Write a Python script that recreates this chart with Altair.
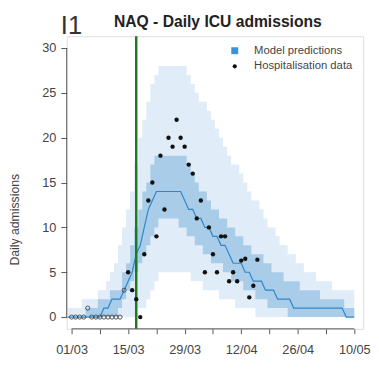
import json
import altair as alt
import pandas as pd

# ---- data (day index 0 = 01/03) ----
days = list(range(-1, 71))

outer_hi = [1, 1, 1, 1,
            2, 2, 2, 2,
            3, 3, 4, 5,
            6, 8, 10, 12, 14, 17, 20, 22, 24, 26, 27,
            28, 28, 28, 28, 28, 28, 28,
            27, 26, 25, 24, 24, 23, 22, 21, 20, 19, 18, 17,
            17, 16, 15, 14, 13, 13, 12, 11, 10, 10, 9, 8,
            8, 7, 7, 6, 6, 5, 5, 5, 4, 4, 4, 4,
            3, 3, 3, 3, 3, 3]

outer_lo = [0] * 18 + [1, 1, 2, 3, 4] + [5] * 8 + \
           [4, 4, 4, 3, 3, 3, 3, 2, 2, 2, 2, 1, 1, 1, 1, 1] + [0] * 25

inner_hi = [0, 0, 0, 0, 0,
            1, 1, 1,
            2, 2, 2,
            3, 3, 3, 5, 6, 8, 10, 12, 14, 15, 17, 18,
            18, 18, 18, 18, 18, 18, 18,
            17, 16, 15, 14, 14, 13, 12, 12, 11, 11, 10, 10,
            9, 9, 8, 8, 7, 7, 7, 6, 6, 5, 5, 5,
            4, 4, 4, 4, 3, 3, 3, 3, 3, 2, 2, 2,
            2, 2, 2, 1, 1, 1]

inner_lo = [0] * 13 + [1, 2, 3, 4, 5, 6, 7, 8, 9, 10] + [11] * 5 + \
           [10, 10, 9, 9, 8, 8, 7, 7, 6, 6, 6, 5, 5, 4] + \
           [4, 4, 3, 3, 3, 2, 2, 2, 1, 1, 1, 1, 1] + [0] * 17

median = [0] * 9 + [1, 1, 2, 2, 2, 3, 4, 5, 7, 8, 10, 12, 13, 14] + [14] * 6 + \
         [13, 12, 12, 11, 11, 10, 10, 9, 9, 8, 8, 7, 6] + \
         [6, 6, 5, 5, 4, 4, 4, 3, 3, 3, 2, 2, 2, 2] + [1] * 13 + [0, 0, 0]

early_days = list(range(0, 14))
early_values = [0, 0, 0, 0, 1, 0, 0, 0, 0, 0, 0, 0, 0, 3]

obs_days = list(range(14, 47))
obs_values = [5, 3, 2, 0, 7, 13, 15, 9, 18, 12, 20, 19, 22, 20, 19, 17, 16,
              11, 13, 5, 10, 7, 5, 9, 9, 4, 5, 4, 6.3, 6.5, 2.2, 3.5, 6.4]

lockdown_day = [16]
tick_days = list(range(0, 71, 7))
tick_labels = ["01/03", "15/03", "29/03", "12/04", "26/04", "10/05"]
y_ticks = [0, 5, 10, 15, 20, 25, 30]
legend_labels = ["Model predictions", "Hospitalisation data"]
title_text = "NAQ - Daily ICU admissions"
panel_text = "I1"

assert all(len(a) == len(days) for a in [outer_hi, outer_lo, inner_hi, inner_lo, median])

bands = pd.DataFrame({"day": days, "outer_lo": outer_lo, "outer_hi": outer_hi,
                      "inner_lo": inner_lo, "inner_hi": inner_hi, "median": median})
early = pd.DataFrame({"day": early_days, "value": early_values})
obs = pd.DataFrame({"day": obs_days, "value": obs_values})
legend_df = pd.DataFrame({"series": legend_labels})
lock_df = pd.DataFrame({"day": lockdown_day})

# ---- style ----
FONT = "Liberation Sans"
LIGHT = "#e0ecf8"
DARK = "#a9cde9"
LINE = "#2f86c8"
SQUARE = "#3a93d6"
GREEN = "#1d7a1d"
AXIS = "#555555"
TXT = "#444444"

W, H = 303, 299
xs = alt.Scale(domain=[-1.21, 72.2], nice=False, zero=False)
ys = alt.Scale(domain=[-1.31, 31.31], nice=False, zero=False)

label_expr = ("datum.value % 14 == 0 ? " + json.dumps(tick_labels) +
              "[datum.value / 14] : ''")

x_axis = alt.Axis(values=tick_days, labelExpr=label_expr, title=None, domain=False,
                  grid=False, tickSize=5, tickColor=AXIS, labelFontSize=13,
                  labelColor=TXT, labelFont=FONT, labelPadding=10, labelFlush=False,
                  labelOverlap=False)
y_axis = alt.Axis(values=y_ticks, title="Daily admissions", domain=False, grid=False,
                  tickSize=6, tickColor=AXIS, labelFontSize=13, labelColor=TXT,
                  labelFont=FONT, labelPadding=5, titleFont=FONT, titleFontSize=12.5,
                  titleFontWeight="normal", titleColor=TXT, titleX=-53, titleY=187,
                  titleAngle=270, titleAlign="center", titleBaseline="middle")


def X(field):
    return alt.X(field, scale=xs, axis=x_axis)


def Y(field):
    return alt.Y(field, scale=ys, axis=y_axis)


outer = alt.Chart(bands).mark_area(interpolate="step", color=LIGHT).encode(
    x=X("day:Q"), y=Y("outer_lo:Q"), y2="outer_hi:Q")
inner = alt.Chart(bands).mark_area(interpolate="step", color=DARK).encode(
    x=X("day:Q"), y=Y("inner_lo:Q"), y2="inner_hi:Q")
med = alt.Chart(bands).mark_line(color=LINE, strokeWidth=1.2).encode(
    x=X("day:Q"), y=Y("median:Q"))
lock = alt.Chart(lock_df).mark_rule(color=GREEN, strokeWidth=2.5).encode(
    x=X("day:Q"))
early_pts = alt.Chart(early).mark_point(shape="circle", filled=False, color="#444444",
                                        size=18, strokeWidth=0.9, opacity=1).encode(
    x=X("day:Q"), y=Y("value:Q"))
obs_pts = alt.Chart(obs).mark_circle(color="#111111", size=20, opacity=1).encode(
    x=X("day:Q"), y=Y("value:Q"))
x_line = alt.Chart(lock_df).mark_rule(color=AXIS, strokeWidth=1).encode(
    x=alt.XDatum(tick_days[0], axis=x_axis), x2=alt.X2Datum(tick_days[-1]),
    y=alt.value(H))
y_line = alt.Chart(lock_df).mark_rule(color=AXIS, strokeWidth=1).encode(
    x=alt.value(0), y=alt.YDatum(y_ticks[0], axis=y_axis), y2=alt.Y2Datum(y_ticks[-1]))

leg = alt.Legend(orient="none", legendX=166, legendY=9, title=None, labelFontSize=11.5,
                 labelFont=FONT, labelColor=TXT, labelOffset=14, rowPadding=3,
                 symbolStrokeWidth=0, symbolOpacity=1, padding=0)
legend_layer = alt.Chart(legend_df).mark_point(filled=True, opacity=0).encode(
    color=alt.Color("series:N", scale=alt.Scale(domain=legend_labels, range=[SQUARE, "#111111"]), legend=leg),
    shape=alt.Shape("series:N", scale=alt.Scale(domain=legend_labels, range=["square", "circle"]), legend=leg),
    size=alt.Size("series:N", scale=alt.Scale(domain=legend_labels, range=[50, 18]), legend=leg),
)

panel = alt.Chart(lock_df).mark_text(text=panel_text, fontSize=26, font=FONT, color="#333333",
                                     align="left", baseline="alphabetic").encode(
    x=alt.value(-6), y=alt.value(-2))
title = alt.Chart(lock_df).mark_text(text=title_text, fontSize=16, fontWeight="bold",
                                     font=FONT, color="#222222", align="center",
                                     baseline="alphabetic").encode(
    x=alt.value(W / 2 + 3), y=alt.value(-9))

chart = alt.layer(outer, inner, med, lock, early_pts, obs_pts, x_line, y_line,
                  legend_layer, panel, title).properties(
    width=W, height=H,
    autosize=alt.AutoSizeParams(type="none"),
    padding={"left": 60, "top": 25, "right": 8, "bottom": 30},
).configure_view(stroke=None).configure(background="white")

chart.save("out.html", embed_options={"renderer": "svg", "actions": False})
